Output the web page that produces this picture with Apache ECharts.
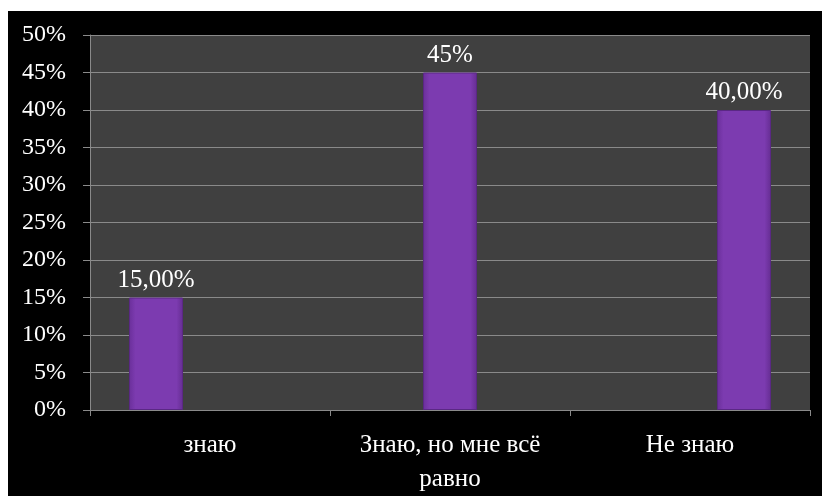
<!DOCTYPE html>
<html>
<head>
<meta charset="utf-8">
<script src="https://cdn.jsdelivr.net/npm/echarts@6/dist/echarts.min.js"></script>
<style>
  html, body { margin: 0; padding: 0; background: #ffffff; }
  #chart { width: 822px; height: 496px; }
</style>
</head>
<body>
<div id="chart"></div>
<script>
// Survey answers and their shares (percent)
const categories = ['знаю', 'Знаю, но мне всё\nравно', 'Не знаю'];
const shareKnow = [15, null, null];
const shareIndifferent = [null, 45, null];
const shareDontKnow = [null, null, 40];
const valueLabels = ['15,00%', '45%', '40,00%'];
const yTicks = { min: 0, max: 50, step: 5 };

const FONT = "'Liberation Serif', 'Times New Roman', serif";

const barFill = {
  type: 'linear', x: 0, y: 0, x2: 1, y2: 0,
  colorStops: [
    { offset: 0, color: '#6a2f9a' },
    { offset: 0.12, color: '#7c3bb0' },
    { offset: 0.88, color: '#7c3bb0' },
    { offset: 1, color: '#652d92' }
  ]
};

function makeSeries(name, values, labelText) {
  return {
    name: name,
    type: 'bar',
    data: values,
    barWidth: 54,
    barGap: '0%',
    itemStyle: { color: barFill, borderColor: '#5a2884', borderWidth: 1 },
    label: {
      show: true,
      position: 'top',
      distance: 5,
      color: '#ffffff',
      fontFamily: FONT,
      fontSize: 25,
      formatter: () => labelText
    }
  };
}

const chart = echarts.init(document.getElementById('chart'), null, { renderer: 'canvas' });
chart.setOption({
  backgroundColor: '#ffffff',
  animation: false,
  graphic: [{
    type: 'rect',
    z: -10,
    shape: { x: 8, y: 11, width: 814, height: 485 },
    style: { fill: '#000000' }
  }],
  grid: {
    left: 90, right: 12, top: 35, bottom: 83,
    show: true, backgroundColor: '#404040', borderWidth: 0
  },
  xAxis: {
    type: 'category',
    data: categories,
    axisLine: { lineStyle: { color: '#8a8a8a', width: 1 } },
    axisTick: { show: true, length: 6, lineStyle: { color: '#8a8a8a' } },
    axisLabel: {
      color: '#ffffff', fontFamily: FONT, fontSize: 25,
      lineHeight: 34, margin: 18, interval: 0
    }
  },
  yAxis: {
    type: 'value',
    min: yTicks.min, max: yTicks.max, interval: yTicks.step,
    axisLine: { show: true, lineStyle: { color: '#8a8a8a', width: 1 } },
    axisTick: { show: true, length: 7, lineStyle: { color: '#8a8a8a' } },
    splitLine: { show: true, lineStyle: { color: '#8a8a8a', width: 1 } },
    axisLabel: {
      color: '#ffffff', fontFamily: FONT, fontSize: 24, margin: 24,
      formatter: '{value}%'
    }
  },
  series: [
    makeSeries('знаю', shareKnow, valueLabels[0]),
    makeSeries('Знаю, но мне всё равно', shareIndifferent, valueLabels[1]),
    makeSeries('Не знаю', shareDontKnow, valueLabels[2])
  ]
});
</script>
</body>
</html>
